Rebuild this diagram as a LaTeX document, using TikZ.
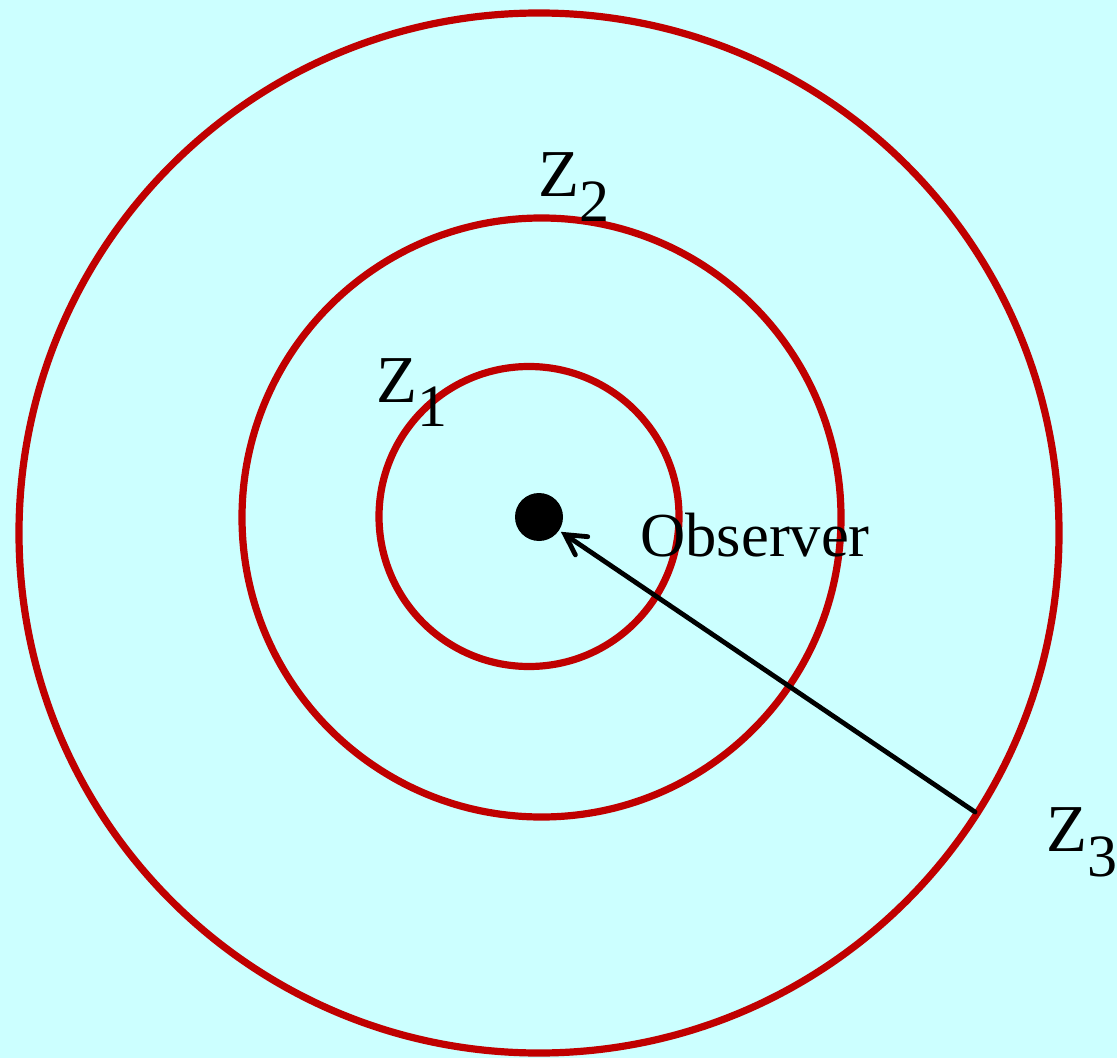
\documentclass[tikz,border=0pt]{standalone}
\usepackage{fontspec}
\setmainfont{Liberation Serif}
\usepackage{tikz}
\usetikzlibrary{arrows.meta, positioning}
\definecolor{skycyan}{RGB}{204, 255, 255}
\definecolor{ringred}{RGB}{192, 0, 0}
\newcommand{\zone}[1]{Z\raisebox{-12.5pt}{\fontsize{30}{30}\selectfont #1}}

\begin{document}
\begin{tikzpicture}[
      x=0.5pt, y=-0.5pt,
      ring/.style={draw=ringred, line width=3.6pt},
      lbl/.style={anchor=base west, inner sep=0pt, font=\fontsize{31.3}{31.3}\selectfont},
      zlbl/.style={lbl, font=\fontsize{33.5}{33.5}\selectfont},
      arr/.style={{Straight Barb[length=10pt, width=11pt, line cap=round]}-, line width=2.4pt, line cap=round}
    ]
    \fill[skycyan] (0,0) rectangle (1117,1058);
    \useasboundingbox (0,0) rectangle (1117,1058);

    \draw[ring] (539,533) circle[radius=520];
    \draw[ring] (541.5,517.5) circle[radius=299.5];
    \draw[ring] (529,516.5) circle[radius=150];

    \node[circle, fill=black, inner sep=0pt, minimum size=24pt] (obs) at (539,517) {};
    \node[lbl] (name) at (640,556) {Observer};

    \node[zlbl] (z1) at (376,402) {\zone{1}};
    \node[zlbl] (z2) at (538,197) {\zone{2}};
    \node[zlbl] (z3) at (1046,851) {\zone{3}};

    \coordinate (edge) at (975,812);
    \draw[arr, shorten <=1pt] (obs) -- (edge);
  \end{tikzpicture}
\end{document}
